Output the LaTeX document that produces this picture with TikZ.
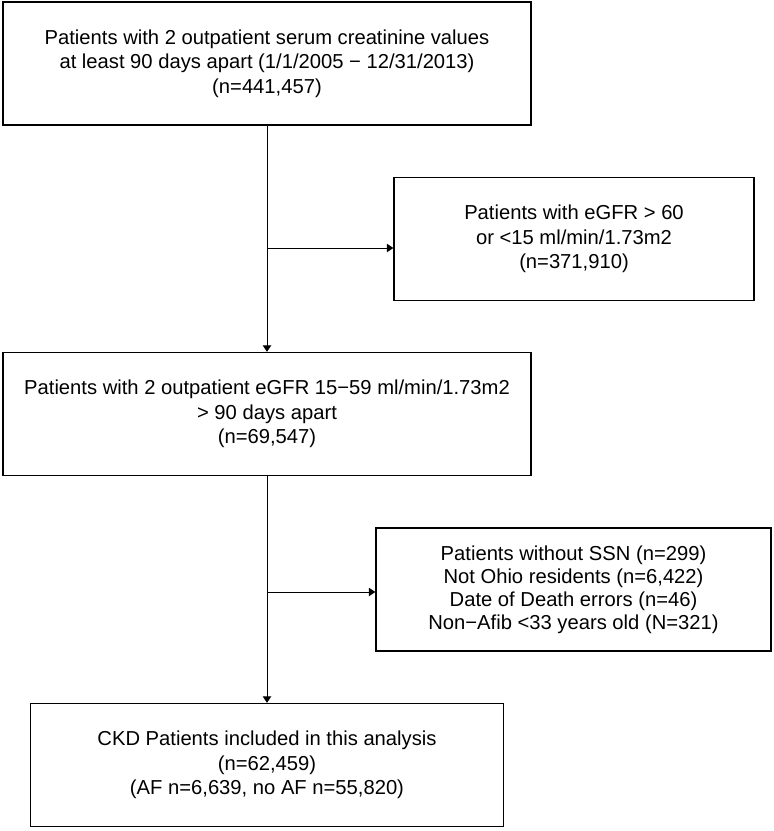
\documentclass[tikz,border=0pt]{standalone}
\usepackage{fontspec}
\setmainfont{Liberation Sans}
\usetikzlibrary{positioning, arrows.meta}

\begin{document}
\begin{tikzpicture}[
  x=1pt, y=-1pt,
  box/.style={rectangle, draw, line width=1.4pt, align=center, minimum height=123pt,
    font=\fontsize{20.2}{24.5}\selectfont},
  arrow/.style={-{Triangle[length=6.5pt, width=8.5pt]}, line width=1pt}
]
  \useasboundingbox (0,0) rectangle (774,831);

  % Main flow
  \node[box, minimum width=528pt] (screen) at (267,63.5) {Patients with 2 outpatient serum creatinine values\\ at least 90 days apart (1/1/2005 − 12/31/2013)\\ (n=441,457)};
  \node[box, minimum width=528pt] (egfrrange) at (267,414) {Patients with 2 outpatient eGFR 15−59 ml/min/1.73m2\\ > 90 days apart\\ (n=69,547)};
  \node[box, minimum width=473pt] (cohort) at (267,765) {CKD Patients included in this analysis\\ (n=62,459)\\ (AF n=6,639, no AF n=55,820)};

  % Exclusions
  \node[box, minimum width=360pt] (excl1) at (574,239) {Patients with eGFR > 60\\ or <15 ml/min/1.73m2\\ (n=371,910)};
  \node[box, minimum width=395pt, font=\fontsize{20.2}{23}\selectfont] (excl2) at (573.5,589.5) {Patients without SSN (n=299)\\ Not Ohio residents (n=6,422)\\ Date of Death errors (n=46)\\ Non−Afib <33 years old (N=321)};

  % Branch points
  \coordinate (branch1) at (267,248);
  \coordinate (branch2) at (267,592);

  % Arrows
  \draw[arrow] (screen) -- (egfrrange);
  \draw[arrow] (egfrrange) -- (cohort);
  \draw[arrow] (branch1) -- (branch1 -| excl1.west);
  \draw[arrow] (branch2) -- (branch2 -| excl2.west);

\end{tikzpicture}
\end{document}
